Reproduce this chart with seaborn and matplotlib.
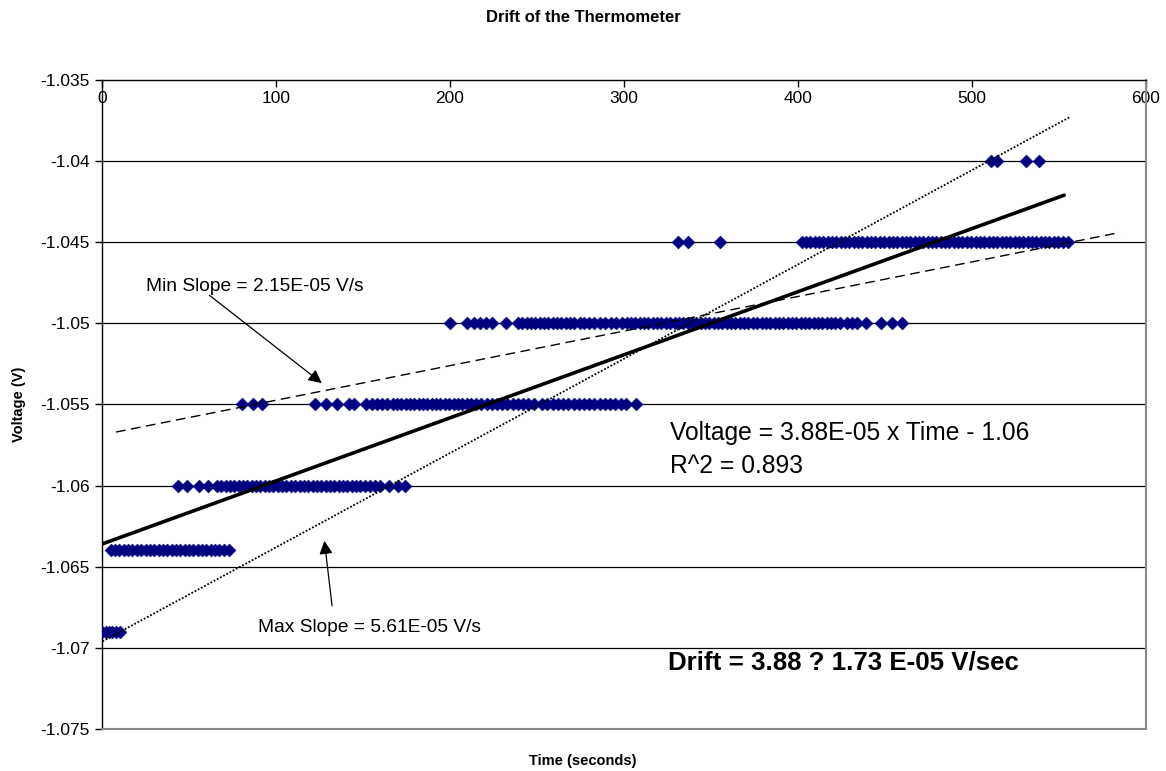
import numpy as np
import pandas as pd
import matplotlib
matplotlib.use("Agg")
import matplotlib.pyplot as plt
import seaborn as sns

# ---------------- data ----------------
levels = [-1.069, -1.064, -1.060, -1.055, -1.050, -1.045, -1.040]
t_1069 = [0, 2, 4, 6, 8, 10.5]
t_1064 = [5, 7.5, 10, 12.5, 15, 17.5, 20, 22.5, 25, 27.5, 30, 32.5, 35, 37.5,
          40, 42.5, 45, 47.5, 50, 52.5, 55, 57.5, 60, 62.5, 65, 67, 70, 73]
t_1060 = [43.5, 49, 56, 61, 66, 68.5, 71, 73.5, 76, 78.5, 81, 83.5, 86, 88.5,
          91, 93.5, 96, 98.5, 101, 103.5, 106, 108.5, 111, 113.5, 116, 118.5,
          121, 123.5, 126, 128.5, 131, 133.5, 136, 138.5, 141, 143.5, 146,
          148.5, 151, 154, 157, 160, 165, 170, 174]
t_1055 = [80.5, 86.5, 92, 122.5, 129, 135, 142, 145, 151.5, 155, 158, 161,
          164, 167, 169.5, 172, 174.5, 177, 179.5, 182, 184.5, 187, 189.5,
          192, 194.5, 197, 199.5, 202, 204.5, 207, 209.5, 212, 215, 218, 221,
          224, 227, 230, 233, 236, 239, 242, 245, 248.5, 253, 256, 259, 262,
          265, 268, 271, 274, 277, 280, 283, 286, 289, 292, 295, 298.5, 301,
          307]
t_1050 = [200, 210, 213.5, 217, 220.5, 224, 232, 239, 241.5, 244, 246.5, 249,
          251.5, 254, 256.5, 259, 261.5, 264, 266.5, 269, 271.5, 274.5,
          277, 280, 283, 286, 289, 292.5, 295.5, 299, 301.5, 304, 306.5, 309,
          311.5, 314, 316.5, 319, 321.5, 324, 326.5, 329, 331.5, 334, 336.5,
          339, 341.5, 344, 346.5, 349, 351.5, 354, 356.5, 359, 361.5, 364,
          366.5, 369, 371.5, 374, 376.5, 379, 381.5, 384, 386.5, 389, 391.5,
          394, 396.5, 399, 401.5, 404, 406.5, 409, 411.5, 414, 416.5, 419,
          421.5, 424, 428, 431, 434, 439, 447.5, 454, 460]
t_1045 = [331, 336.5, 355, 402, 404.5, 407, 409.5, 412, 414.5, 417, 419.5,
          422, 424.5, 427, 429.5, 432, 434.5, 437, 439.5, 442, 444.5, 447,
          449.5, 452, 454.5, 457, 459.5, 462, 464.5, 467, 469.5, 472, 474.5,
          477, 479.5, 482, 484.5, 487, 489.5, 492, 494.5, 497, 499.5, 502,
          504.5, 507, 509.5, 512, 514.5, 517, 519.5, 522, 524.5, 527, 529.5,
          532, 534.5, 537, 539.5, 542, 544.5, 547, 549.5, 552, 555]
t_1040 = [511, 514.5, 531, 538.5]
times_by_level = [t_1069, t_1064, t_1060, t_1055, t_1050, t_1045, t_1040]

# trend lines (end points)
fit_t = [0, 553]
fit_v = [-1.0636, -1.0421]
min_t = [8, 585]
min_v = [-1.0567, -1.0444]
max_t = [0.3, 556]
max_v = [-1.0696, -1.0373]

x_ticks = [0, 100, 200, 300, 400, 500, 600]
y_ticks = [-1.035, -1.04, -1.045, -1.05, -1.055, -1.06, -1.065, -1.07, -1.075]
y_tick_labels = ["-1.035", "-1.04", "-1.045", "-1.05", "-1.055", "-1.06",
                 "-1.065", "-1.07", "-1.075"]

rows = []
for lv, ts in zip(levels, times_by_level):
    for t in ts:
        rows.append((t, lv))
df = pd.DataFrame(rows, columns=["Time", "Voltage"]).sort_values("Time")

# ---------------- plot ----------------
sns.set_style("white")
plt.rcParams["font.family"] = ["Liberation Sans", "DejaVu Sans"]
plt.rcParams["text.color"] = "black"
plt.rcParams["axes.labelcolor"] = "black"
plt.rcParams["xtick.color"] = "black"
plt.rcParams["ytick.color"] = "black"

fig = plt.figure(figsize=(11.66, 7.71), dpi=100)
ax = fig.add_axes([0.0875, 0.0545, 0.8954, 0.8418])

ax.set_xlim(0, 600)
ax.set_ylim(-1.075, -1.035)

for yv in y_ticks[1:-1]:
    ax.axhline(yv, color="black", lw=0.9, zorder=1)

sns.scatterplot(data=df, x="Time", y="Voltage", marker="D", s=44,
                color="#000080", edgecolor="#000080", linewidth=0.3,
                ax=ax, zorder=3, legend=False)

sns.lineplot(x=fit_t, y=fit_v, color="black", lw=2.6, ax=ax, zorder=4)
sns.lineplot(x=min_t, y=min_v, color="black", lw=1.0, ax=ax, zorder=4,
             linestyle=(0, (7, 4)))
sns.lineplot(x=max_t, y=max_v, color="black", lw=1.3, ax=ax, zorder=4,
             linestyle=(0, (1, 1)))

# axes styling
for side in ["top", "left"]:
    ax.spines[side].set_color("black")
    ax.spines[side].set_linewidth(1.0)
for side in ["right", "bottom"]:
    ax.spines[side].set_color("#888888")
    ax.spines[side].set_linewidth(1.5)

ax.set_xticks(x_ticks)
ax.set_xticklabels([str(v) for v in x_ticks])
ax.set_yticks(y_ticks)
ax.set_yticklabels(y_tick_labels)
ax.tick_params(axis="x", top=True, bottom=False, labeltop=True,
               labelbottom=False, direction="in", length=5, width=1,
               color="black", labelsize=12.5, pad=-19)
ax.tick_params(axis="y", left=True, direction="out", length=5, width=1,
               color="black", labelsize=12.5, pad=4)

ax.set_xlabel("Time (seconds)", fontsize=10.5, fontweight="bold")
ax.xaxis.set_label_position("bottom")
ax.xaxis.set_label_coords(0.4607, -0.038)
ax.set_ylabel("Voltage (V)", fontsize=10.5, fontweight="bold")
ax.yaxis.set_label_coords(-0.073, 0.5)

fig.text(0.5, 0.977, "Drift of the Thermometer", ha="center", va="center",
         fontsize=12, fontweight="bold")

# annotations
ax.text(25.5, -1.04772, "Min Slope = 2.15E-05 V/s", ha="left", va="center",
        fontsize=13.8)
ax.annotate("", xy=(126.3, -1.05368), xytext=(61.7, -1.04827),
            arrowprops=dict(arrowstyle="-|>", color="black", lw=0.9,
                            mutation_scale=20, shrinkA=0, shrinkB=0))
ax.text(89.4, -1.06877, "Max Slope = 5.61E-05 V/s", ha="left", va="center",
        fontsize=13.8)
ax.annotate("", xy=(127.8, -1.0634), xytext=(132.2, -1.06741),
            arrowprops=dict(arrowstyle="-|>", color="black", lw=0.9,
                            mutation_scale=20, shrinkA=0, shrinkB=0))

ax.text(326.3, -1.05673, "Voltage = 3.88E-05 x Time - 1.06", ha="left",
        va="center", fontsize=17.7)
ax.text(326.3, -1.05877, "R^2 = 0.893", ha="left", va="center", fontsize=17.7)
ax.text(325.2, -1.07093, "Drift = 3.88 ? 1.73 E-05 V/sec", ha="left",
        va="center", fontsize=18.6, fontweight="bold")

fig.savefig("out.png", dpi=100)
